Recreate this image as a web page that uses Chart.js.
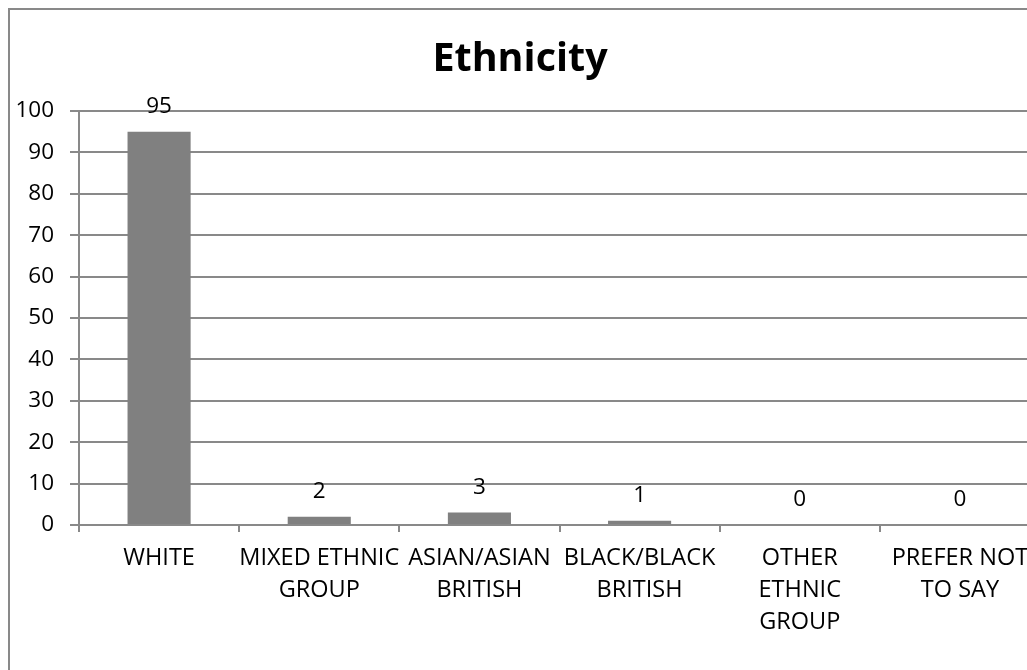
<!DOCTYPE html>
<html>
<head>
<meta charset="utf-8">
<script src="https://cdn.jsdelivr.net/npm/chart.js@4.4.1/dist/chart.umd.min.js"></script>
<style>
  html, body { margin: 0; padding: 0; background: #fff; overflow: hidden; width: 1027px; height: 670px; }
  #wrap { position: absolute; left: 0; top: 0; width: 1040px; height: 670px; }
  #frame { position: absolute; left: 8px; top: 8px; width: 2000px; height: 2000px; border: 2px solid #898989; box-sizing: border-box; pointer-events: none; }
</style>
</head>
<body>
<div id="wrap"><canvas id="c" width="1040" height="670"></canvas></div>
<div id="frame"></div>
<script>
const categories = [
  ["WHITE"],
  ["MIXED ETHNIC", "GROUP"],
  ["ASIAN/ASIAN", "BRITISH"],
  ["BLACK/BLACK", "BRITISH"],
  ["OTHER", "ETHNIC", "GROUP"],
  ["PREFER NOT", "TO SAY"]
];
const values = [95, 2, 3, 1, 0, 0];
const yTicks = [0, 10, 20, 30, 40, 50, 60, 70, 80, 90, 100];
const chartTitle = "Ethnicity";

const FONT = "'Open Sans'";

const valueLabels = {
  id: 'valueLabels',
  afterDatasetsDraw(chart) {
    const ctx = chart.ctx;
    const meta = chart.getDatasetMeta(0);
    ctx.save();
    ctx.font = "22.5px " + FONT;
    ctx.fillStyle = "#000";
    ctx.textAlign = "center";
    ctx.textBaseline = "middle";
    meta.data.forEach((bar, i) => {
      ctx.fillText(String(values[i]), bar.x, bar.y - 25);
    });
    ctx.restore();
  }
};

new Chart(document.getElementById('c'), {
  type: 'bar',
  data: {
    labels: categories,
    datasets: [{
      data: values,
      backgroundColor: '#808080',
      borderWidth: 0,
      categoryPercentage: 1,
      barPercentage: 0.394
    }]
  },
  options: {
    responsive: false,
    animation: false,
    devicePixelRatio: 1,
    layout: { padding: { top: 0, right: 0, bottom: 0, left: 0 } },
    plugins: {
      legend: { display: false },
      tooltip: { enabled: false },
      title: {
        display: true,
        text: chartTitle,
        color: '#000',
        font: { family: FONT, size: 39.5, weight: 'bold', lineHeight: 1.2 },
        padding: { top: 36, bottom: 27.6 }
      }
    },
    scales: {
      x: {
        grid: { display: true, drawOnChartArea: false, drawTicks: true, tickLength: 7, offset: true, color: '#898989', lineWidth: 2 },
        border: { display: true, color: '#898989', width: 2 },
        ticks: { color: '#000', font: { family: FONT, size: 23.5, lineHeight: '32px' }, padding: 10, maxRotation: 0, autoSkip: false },
        afterFit(scale) { scale.height = 145; }
      },
      y: {
        min: 0, max: 100,
        afterBuildTicks(scale) { scale.ticks = yTicks.map(v => ({ value: v })); },
        grid: { color: '#898989', lineWidth: 2, tickLength: 9 },
        border: { display: true, color: '#898989', width: 2 },
        ticks: { color: '#000', font: { family: FONT, size: 22.5 }, padding: 16 },
        afterFit(scale) { scale.width = 79; }
      }
    }
  },
  plugins: [valueLabels]
});
</script>
</body>
</html>
